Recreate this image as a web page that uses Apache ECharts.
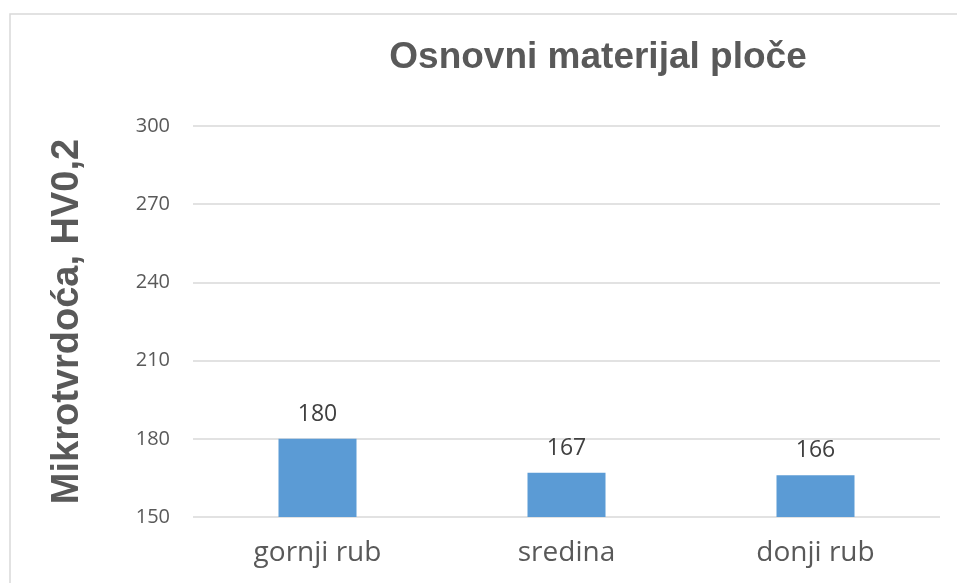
<!DOCTYPE html>
<html><head><meta charset="utf-8">
<script src="https://cdn.jsdelivr.net/npm/echarts@6/dist/echarts.min.js"></script>
<style>html,body{margin:0;padding:0;background:#fff}#c{width:957px;height:583px}</style>
</head><body><div id="c"></div>
<script>
const categories = ['gornji rub', 'sredina', 'donji rub'];
const values = [180, 167, 166];
const yTicks = [150, 180, 210, 240, 270, 300];
const titleText = 'Osnovni materijal ploče';
const yAxisTitle = 'Mikrotvrdoća, HV0,2';

const chart = echarts.init(document.getElementById('c'), null, {renderer: 'canvas'});
chart.setOption({
  backgroundColor: '#fff',
  animation: false,
  graphic: [{
    type: 'rect', shape: {x: 10, y: 14, width: 980, height: 600},
    style: {fill: 'none', stroke: '#d9d9d9', lineWidth: 1.5}, silent: true
  }],
  title: {
    text: titleText, left: 593, top: 34, textAlign: 'center',
    textStyle: {fontFamily: 'Liberation Sans, Arial, sans-serif', fontSize: 37, fontWeight: 'bold', color: '#595959'}
  },
  grid: {left: 193, right: 17, top: 126, bottom: 66},
  xAxis: {
    type: 'category', data: categories,
    axisLine: {show: false}, axisTick: {show: false},
    axisLabel: {margin: 22, fontSize: 28, color: '#595959', fontFamily: 'Open Sans, Noto Sans, sans-serif'}
  },
  yAxis: {
    type: 'value', min: yTicks[0], max: yTicks[yTicks.length - 1], interval: 30,
    name: yAxisTitle, nameLocation: 'middle', nameGap: 106, nameRotate: 90,
    nameTextStyle: {fontFamily: 'Liberation Sans, Arial, sans-serif', fontSize: 38, fontWeight: 'bold', color: '#595959'},
    axisLine: {show: false}, axisTick: {show: false},
    axisLabel: {margin: 23, fontSize: 20, color: '#595959', fontFamily: 'Open Sans, Noto Sans, sans-serif'},
    splitLine: {lineStyle: {color: '#d9d9d9', width: 1.5}}
  },
  series: [{
    type: 'bar', data: values, barWidth: 78,
    itemStyle: {color: '#5b9bd5'},
    label: {show: true, position: 'top', distance: 13, fontSize: 23, color: '#404040', fontFamily: 'Open Sans, Noto Sans, sans-serif'}
  }]
});
</script></body></html>
